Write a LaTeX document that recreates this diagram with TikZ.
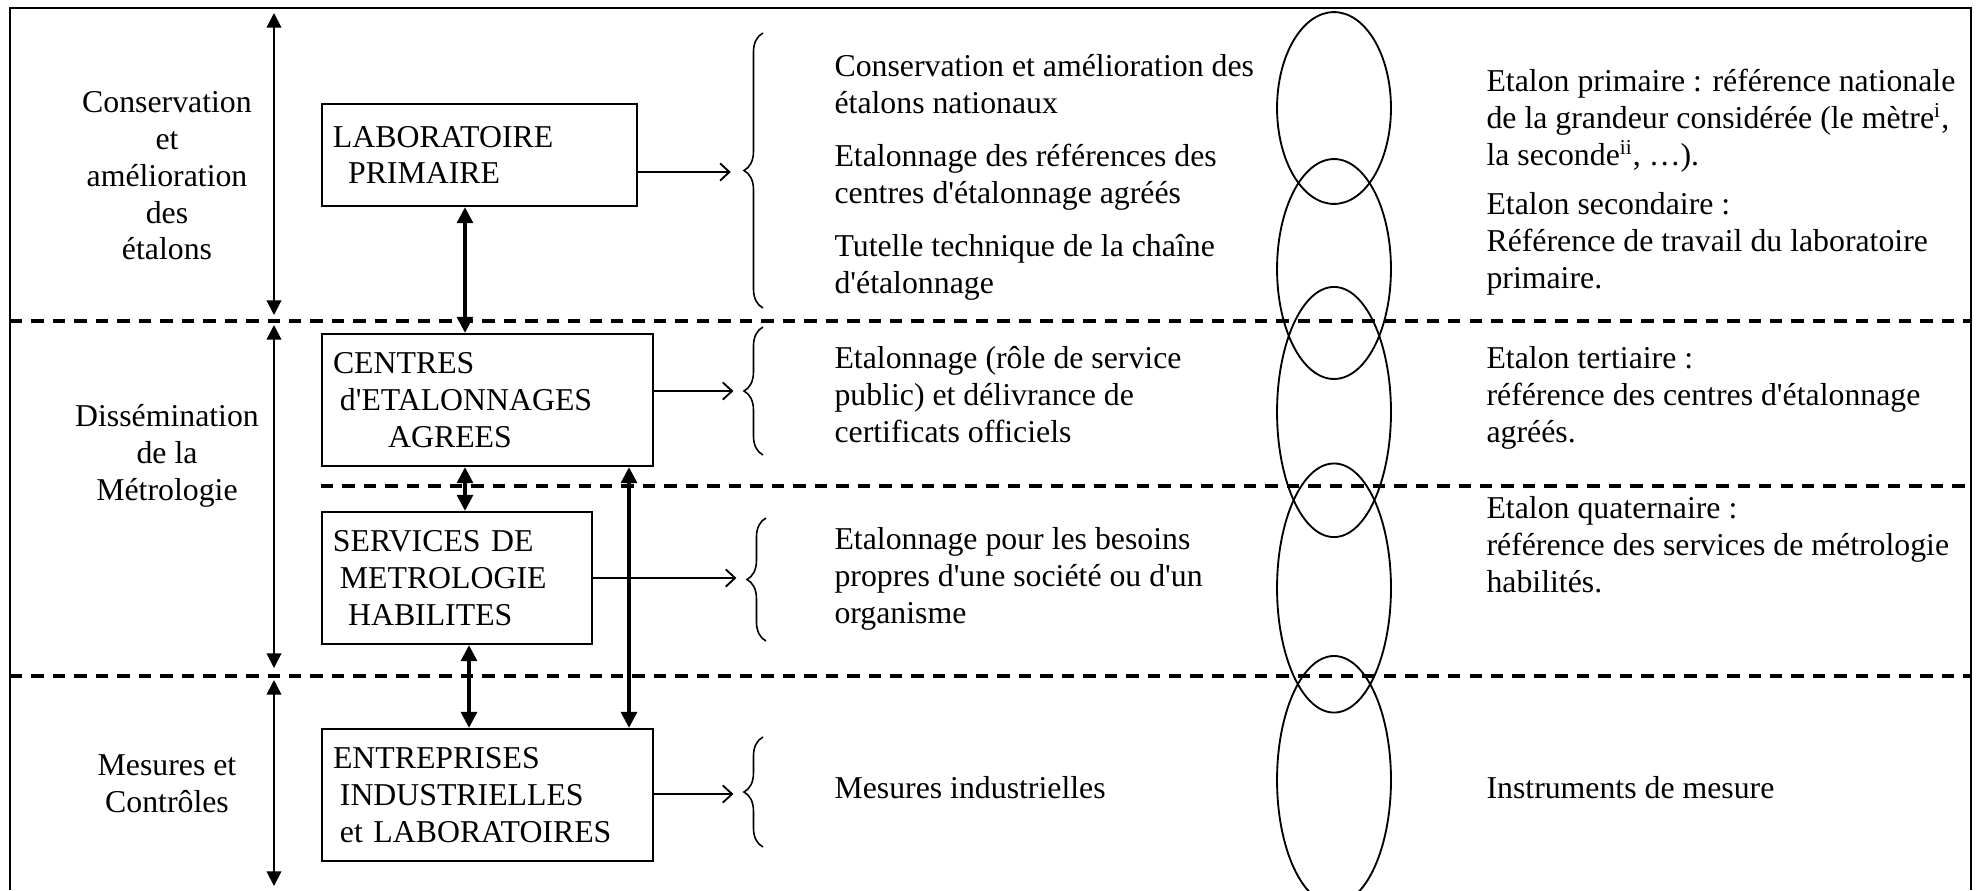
\documentclass[tikz,border=0pt]{standalone}
\usepackage{fontspec}
\setmainfont{Liberation Serif}[Ligatures=TeXOff]
\usetikzlibrary{arrows.meta,decorations.pathreplacing}

\tikzset{
  boite/.style={draw, line width=0.9pt, align=left, inner xsep=4.15pt, inner ysep=0pt},
  dbl/.style={{Triangle[length=6pt,width=6pt]}-{Triangle[length=6pt,width=6pt]}, line width=1.2pt},
  cote/.style={{Triangle[length=5.5pt,width=5.5pt]}-{Triangle[length=5.5pt,width=5.5pt]}, line width=0.7pt},
  fleche/.style={-{Straight Barb[length=3.5pt,width=6.5pt]}, line width=0.7pt},
  tirets/.style={line width=1.5pt, dash pattern=on 4.7pt off 3.4pt},
  accolade/.style={decorate, decoration={brace, amplitude=7.2pt}, line width=0.6pt},
  texte/.style={align=left, anchor=north west, inner sep=0pt},
  titre/.style={align=center, anchor=north, inner sep=0pt},
  maillon/.style={line width=0.7pt},
}

\begin{document}
\begin{tikzpicture}[x=0.3774pt, y=-0.3774pt, font=\fontsize{12pt}{13.9pt}\selectfont]
  \useasboundingbox (0,0) rectangle (1977,890);
  \clip (0,0) rectangle (1977,890);

  % cadre et separations
  \draw[line width=1pt] (10,890) -- (10,8) -- (1971,8) -- (1971,890);
  \draw[tirets] (10,321) -- (1971,321);
  \draw[tirets] (321,486) -- (1971,486);
  \draw[tirets] (10,676) -- (1971,676);

  % colonne de gauche
  \draw[cote] (274,13) -- (274,315);
  \draw[cote] (274,325) -- (274,668);
  \draw[cote] (274,680) -- (274,886);
  \node[titre] (conserv) at (167,91) {Conservation\\et\\amélioration\\des\\étalons};
  \node[titre] (dissem) at (167,404) {Dissémination\\de la\\Métrologie};
  \node[titre] (mesures) at (167,754) {Mesures et\\Contrôles};

  % organismes
  \node[boite, text width=110.6pt, minimum height=38.5pt] (labo) at (479.5,155) {LABORATOIRE\\\hspace*{5.7pt}PRIMAIRE};
  \node[boite, text width=116.6pt, minimum height=49.8pt] (centres) at (487.5,400) {CENTRES\\\hspace*{2.6pt}d'ETALONNAGES\\\hspace*{20.8pt}AGREES};
  \node[boite, text width=93.6pt, minimum height=49.8pt] (services) at (457,578) {SERVICES DE\\\hspace*{2.6pt}METROLOGIE\\\hspace*{5.7pt}HABILITES};
  \node[boite, text width=116.6pt, minimum height=49.8pt] (entreprises) at (487.5,795) {ENTREPRISES\\\hspace*{2.6pt}INDUSTRIELLES\\\hspace*{2.6pt}et LABORATOIRES};

  \coordinate (c1) at (465,0);
  \coordinate (c2) at (469,0);
  \coordinate (c3) at (629,0);
  \draw[dbl] (labo.south -| c1) -- (centres.north -| c1);
  \draw[dbl] (centres.south -| c1) -- (services.north -| c1);
  \draw[dbl] (services.south -| c2) -- (entreprises.north -| c2);
  \draw[dbl] (centres.south -| c3) -- (entreprises.north -| c3);

  % accolades et fleches
  \coordinate (b1) at (744,172);
  \coordinate (b2) at (744,391);
  \coordinate (b3) at (747,578);
  \coordinate (b4) at (744,794);
  \draw[accolade] (763,308) -- (763,33);
  \draw[accolade] (763,455) -- (763,327);
  \draw[accolade] (766,641) -- (766,518);
  \draw[accolade] (763,847) -- (763,737);
  \draw[fleche] (labo.east |- b1) -- ([xshift=-5pt]b1);
  \draw[fleche] (centres.east |- b2) -- ([xshift=-4pt]b2);
  \draw[fleche] (services.east |- b3) -- ([xshift=-4pt]b3);
  \draw[fleche] (entreprises.east |- b4) -- ([xshift=-4pt]b4);

  % missions
  \node[texte] (m1) at (834,54) {Conservation et amélioration des\\étalons nationaux};
  \node[texte] (m2) at (834,144) {Etalonnage des références des\\centres d'étalonnage agréés};
  \node[texte] (m3) at (834,234) {Tutelle technique de la chaîne\\d'étalonnage};
  \node[texte] (m4) at (834,346) {Etalonnage (rôle de service\\public) et délivrance de\\certificats officiels};
  \node[texte] (m5) at (834,527) {Etalonnage pour les besoins\\propres d'une société ou d'un\\organisme};
  \node[texte] (m6) at (834,776) {Mesures industrielles};

  % chaine
  \draw[maillon] (1334,108) ellipse [x radius=21.5pt, y radius=36.2pt];
  \draw[maillon] (1334,269) ellipse [x radius=21.5pt, y radius=41.5pt];
  \draw[maillon] (1334,412) ellipse [x radius=21.5pt, y radius=47.2pt];
  \draw[maillon] (1334,588) ellipse [x radius=21.5pt, y radius=47pt];
  \draw[maillon] (1334,780) ellipse [x radius=21.5pt, y radius=46.8pt];

  % etalons
  \node[texte] (r1) at (1486,69) {Etalon primaire : référence nationale\\de la grandeur considérée (le mètre\textsuperscript{i},\\la seconde\textsuperscript{ii}, …).};
  \node[texte] (r2) at (1486,192) {Etalon secondaire :\\Référence de travail du laboratoire\\primaire.};
  \node[texte] (r3) at (1486,346) {Etalon tertiaire :\\référence des centres d'étalonnage\\agréés.};
  \node[texte] (r4) at (1486,496) {Etalon quaternaire :\\référence des services de métrologie\\habilités.};
  \node[texte] (r5) at (1486,776) {Instruments de mesure};
\end{tikzpicture}
\end{document}
